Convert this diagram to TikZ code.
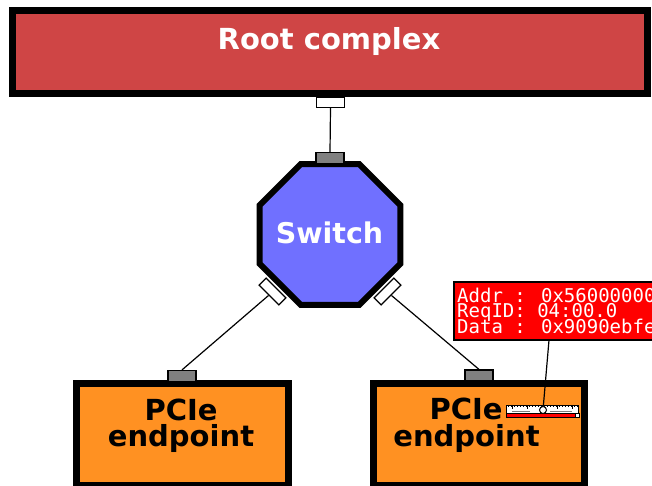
\documentclass[tikz,border=0pt]{standalone}
\usepackage{fontspec}
\setmainfont{DejaVu Sans}
\newfontfamily\monofont{DejaVu Sans Mono}
\usetikzlibrary{shapes.geometric}
\definecolor{rootred}{RGB}{207,69,69}
\definecolor{swblue}{RGB}{112,112,255}
\definecolor{eporange}{RGB}{255,145,34}
\definecolor{portgray}{RGB}{128,128,128}
\begin{document}
\begin{tikzpicture}[x=1pt,y=-1pt,
  bigbox/.style={draw=black,line width=7pt,inner sep=0pt},
  port/.style={draw=black,line width=1.2pt,minimum width=28pt,minimum height=11pt,inner sep=0pt},
  wport/.style={port,fill=white},
  gport/.style={port,fill=portgray},
  title/.style={font=\bfseries\fontsize{29}{26}\selectfont,anchor=base,inner sep=0pt},
  link/.style={draw=black,line width=1.2pt},
  infobox/.style={draw=black,line width=2pt,fill=red,inner sep=0pt},
  infotext/.style={font={\monofont\fontsize{19}{15.7}\selectfont\lineskiplimit=-100pt},text=white,align=left,inner sep=0pt}]
\path[use as bounding box] (0,0) rectangle (652,486);
\clip (0,0) rectangle (652,486);

% root complex
\node[bigbox,fill=rootred,minimum width=635pt,minimum height=83pt] (root) at (329.5,52.5) {};
\node[title,text=white] (rootlabel) at (329,49.5) {Root complex};
\node[wport,minimum height=10pt] (rootport) at (330.5,102.5) {};

% switch
\node[regular polygon,regular polygon sides=8,minimum size=152.6pt,inner sep=0pt,
      draw=black,line width=6pt,fill=swblue] (sw) at (330,234.5) {};
\node[title,text=white,font=\bfseries\fontsize{28.5}{26}\selectfont] (swlabel) at (329.5,243.5) {Switch};
\node[gport] (swtop) at (330,158) {};
\node[wport,minimum height=10pt,rotate=-45] (swl) at (272.5,291.5) {};
\node[wport,minimum height=10pt,rotate=45] (swr) at (387.5,291.5) {};

% endpoints
\node[bigbox,fill=eporange,minimum width=212pt,minimum height=102pt] (epl) at (182,434) {};
\node[bigbox,fill=eporange,minimum width=211.5pt,minimum height=102pt] (epr) at (478.75,434) {};
\node[title] (epltop) at (181,420) {PCIe};
\node[title] (eplbot) at (181,446) {endpoint};
\node[title] (eprtop) at (466,419.5) {PCIe};
\node[title] (eprbot) at (466.5,446) {endpoint};
\node[gport] (eplport) at (182,376) {};
\node[gport] (eprport) at (479,375.5) {};

% links
\draw[link] (rootport.south) -- (swtop.north);
\draw[link] (swl.south) -- (eplport.north);
\draw[link] (swr.south) -- (eprport.north);

% info box
\node[infobox,anchor=north west,minimum width=260pt,minimum height=58pt] (info) at (453,281) {};
\node[infotext,anchor=north west] (infotext) at (457,287.5) {Addr : 0x56000000\\ReqID: 04:00.0\\Data : 0x9090ebfe};

% ruler widget
\fill[white,draw=black,line width=0.6pt] (506,405) rectangle (578,413);
\foreach \t in {508,511,...,577} {\draw[black,line width=0.4pt] (\t,405) -- (\t,407);}
\foreach \t in {512,527,...,577} {\draw[black,line width=0.5pt] (\t,405) -- (\t,409);}
\draw[gray,line width=0.4pt] (512,411) -- (530,411) (550,411) -- (572,411);
\fill[red,draw=black,line width=0.6pt] (506,413.5) rectangle (575,417.5);
\fill[white,draw=black,line width=0.6pt] (575.5,413.5) rectangle (579,417.5);
\node[circle,fill=white,draw=black,line width=1pt,minimum size=7pt,inner sep=0pt] (knob) at (543,410) {};
\coordinate (infopin) at (549,340);
\draw[link] (infopin) -- (knob);
\end{tikzpicture}
\end{document}
